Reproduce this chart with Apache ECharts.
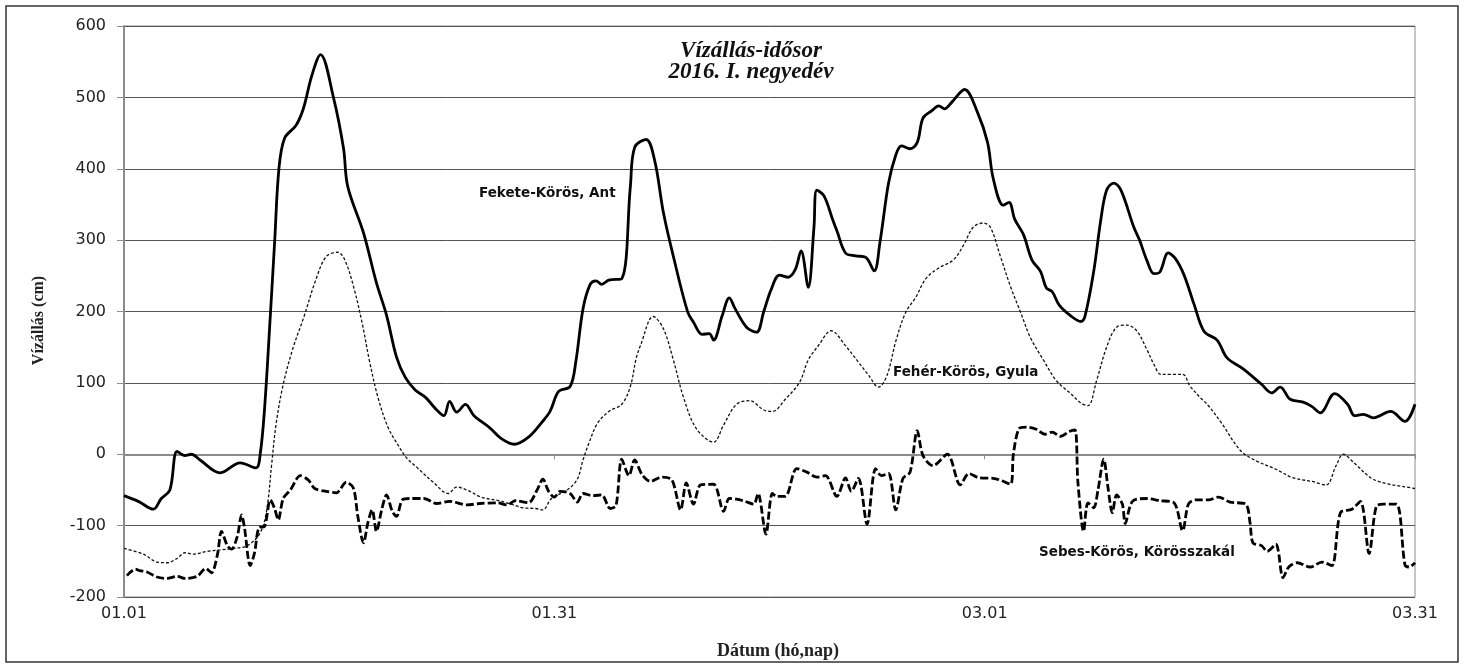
<!DOCTYPE html>
<html>
<head>
<meta charset="utf-8">
<title>Vízállás-idősor 2016. I. negyedév</title>
<script src="https://cdn.jsdelivr.net/npm/echarts@6.0.0/dist/echarts.min.js"></script>
<style>
  html, body { margin: 0; padding: 0; background: #fff; }
  #chart { width: 1466px; height: 665px; }
</style>
</head>
<body>
<div id="chart"></div>
<script>
// x = days since 01.01 (2016), y = water level in cm
const tickLabels = ['01.01', '01.31', '03.01', '03.31']

// Fekete-Körös, Ant
const fekDay = [
  0, 1, 2.05, 2.6, 3.2, 3.7, 4.25, 4.7, 5.3, 6.7,
  8.1, 9.2, 9.5, 9.8, 10.2, 10.5, 10.8, 11.2, 12, 12.5,
  13.1, 13.7, 14.6, 15.3, 15.6, 16.7, 17.6, 18.3, 19, 19.6,
  20.3, 21, 21.8, 22.3, 22.7, 23.2, 23.8, 24.4, 25.5, 26.3,
  27.2, 28.2, 29.1, 29.7, 30.3, 31.1, 31.5, 32, 32.5, 32.9,
  33.3, 33.8, 34.7, 35.3, 35.6, 36.4, 37, 37.6, 38.3, 39.3,
  39.7, 40.3, 40.8, 41.1, 41.7, 42.2, 42.6, 43.4, 44.1, 44.6,
  45.1, 45.7, 46.3, 46.8, 47.2, 47.7, 48.1, 48.3, 48.8, 49.4,
  49.7, 50.3, 51, 51.7, 52.3, 52.7, 53.3, 53.8, 54.2, 54.8,
  55.3, 55.7, 56.3, 56.8, 57.2, 57.7, 58.6, 59.5, 60.2, 60.6,
  61.3, 61.7, 62.1, 62.7, 63.3, 63.9, 64.3, 64.7, 65.2, 66,
  66.7, 67, 67.6, 68.1, 68.5, 69, 69.5, 70.4, 70.8, 71.3,
  71.8, 72.2, 72.8, 73.3, 73.9, 74.6, 75.3, 76.2, 76.9, 78,
  79.3, 80, 80.6, 81.3, 82.2, 82.8, 83.4, 84.4, 85.3, 85.8,
  86.4, 87.1, 88.3, 89.3, 90
]
const fekLevel = [
  -58, -66, -77, -62, -50, 4, -2, 0, -8, -26,
  -12, -19, 1, 64, 194, 297, 400, 443, 461, 484,
  531, 560, 500, 429, 375, 310, 240, 195, 136, 108,
  90, 80, 62, 54, 74, 59, 70, 54, 37, 22,
  14, 24, 44, 60, 88, 95, 130, 204, 238, 243,
  238, 244, 246, 375, 430, 441, 411, 339, 277, 199,
  185, 168, 169, 160, 194, 219, 204, 178, 171, 200,
  230, 251, 248, 259, 285, 234, 318, 370, 362, 329,
  313, 282, 278, 276, 257, 297, 380, 419, 432, 428,
  437, 471, 481, 488, 484, 493, 511, 479, 437, 386,
  349, 353, 329, 308, 272, 256, 233, 228, 209, 194,
  186, 194, 256, 329, 370, 380, 370, 318, 300, 272,
  253, 255, 282, 274, 251, 210, 172, 160, 135, 120,
  98, 86, 94, 77, 73, 67, 58, 85, 70, 54,
  56, 51, 60, 46, 70
]

// Fehér-Körös, Gyula
const fehDay = [
  0, 1.35, 2.3, 3, 3.7, 4.25, 4.8, 5.8, 6.7, 7.6,
  8.6, 9.5, 9.95, 10.3, 10.6, 11.1, 11.8, 12.5, 13.4, 14.1,
  14.9, 15.4, 16, 16.6, 17.1, 17.7, 18.4, 19.1, 19.7, 20.5,
  21.6, 22.6, 23.2, 24, 24.9, 26.1, 27, 27.8, 28.7, 29.2,
  29.8, 30.9, 31.6, 32, 32.4, 33, 33.8, 34.7, 35.3, 35.7,
  36, 36.9, 37.6, 38.3, 39, 39.9, 41.1, 41.8, 42.7, 43.6,
  44.6, 45.2, 46.1, 47.1, 47.7, 48.4, 49.3, 50.3, 51.2, 51.9,
  52.6, 53.2, 53.8, 54.5, 55.2, 55.9, 56.8, 57.8, 58.5, 59.2,
  59.9, 60.4, 61.1, 61.8, 62.5, 63.2, 64.1, 65, 66, 66.7,
  67.2, 67.8, 68.5, 69.2, 69.9, 70.6, 71.3, 71.8, 72.3, 73.8,
  74.3, 75, 75.6, 76.5, 77.8, 78.8, 80.3, 81.5, 82.8, 83.8,
  84.5, 85, 85.8, 87, 88.2, 89.1, 90
]
const fehLevel = [
  -132, -140, -151, -152, -146, -138, -140, -136, -134, -132,
  -128, -110, -78, -13, 42, 98, 150, 190, 246, 277,
  283, 272, 235, 184, 132, 80, 38, 13, -5, -20,
  -40, -55, -46, -51, -60, -65, -70, -75, -76, -78,
  -62, -50, -35, -8, 15, 43, 60, 70, 95, 134,
  152, 193, 176, 132, 80, 36, 17, 41, 70, 75,
  62, 60, 77, 101, 132, 152, 173, 152, 129, 111,
  94, 111, 158, 199, 220, 246, 261, 272, 292, 318,
  324, 318, 277, 235, 199, 163, 132, 103, 85, 72,
  68, 103, 150, 178, 181, 173, 147, 126, 112, 112,
  96, 80, 68, 44, 6, -8, -21, -33, -38, -43,
  -16, 0, -13, -34, -42, -45, -48
]

// Sebes-Körös, Körösszakál
const sebDay = [
  0.2, 0.8, 1.1, 1.6, 2.3, 3, 3.7, 4.25, 5.1, 5.7,
  6.1, 6.5, 6.8, 7.2, 7.5, 7.9, 8.2, 8.4, 8.8, 9.1,
  9.4, 9.8, 10.2, 10.5, 10.75, 11.1, 11.6, 12.3, 12.85, 13.3,
  14.1, 14.8, 15.5, 16, 16.3, 16.7, 17, 17.3, 17.6, 17.96,
  18.3, 18.7, 19, 19.4, 19.95, 20.9, 21.8, 22.7, 23.9, 24.8,
  26, 26.7, 27.3, 28.2, 28.8, 29.2, 29.6, 30, 30.4, 31.1,
  31.6, 32, 32.7, 33.3, 33.9, 34.3, 34.7, 35.2, 35.6, 36.1,
  36.7, 37.5, 38.2, 38.8, 39.2, 39.7, 40.2, 41.1, 41.8, 42.2,
  42.7, 43.3, 43.9, 44.2, 44.75, 45.2, 45.5, 46.1, 46.9, 47.6,
  48.3, 48.9, 49.7, 50.3, 50.7, 51.2, 51.8, 52.4, 52.8, 53.3,
  53.8, 54.3, 54.8, 55.3, 55.7, 56.4, 57.4, 58.3, 58.9, 59.6,
  60.7, 61.8, 62, 62.4, 62.9, 63.6, 64.2, 64.7, 65.3, 65.9,
  66.3, 66.5, 66.9, 67.2, 67.6, 67.9, 68.3, 68.6, 68.9, 69.2,
  69.6, 69.8, 70.3, 71.3, 72.2, 73.2, 73.8, 74.2, 74.7, 75.6,
  76.3, 77.1, 78.2, 78.5, 78.7, 79.3, 79.7, 80.3, 80.8, 81.2,
  81.8, 82.7, 83.5, 84.2, 84.8, 85.6, 86.2, 86.8, 87.3, 87.8,
  88.7, 89.3, 89.6, 90
]
const sebLevel = [
  -170, -161, -163, -165, -172, -174, -171, -174, -171, -160,
  -166, -142, -108, -128, -133, -115, -85, -103, -156, -138,
  -103, -101, -64, -76, -92, -62, -50, -30, -36, -48,
  -52, -54, -39, -48, -87, -124, -96, -78, -108, -78,
  -57, -80, -87, -64, -62, -62, -69, -66, -71, -69,
  -68, -71, -65, -68, -50, -35, -52, -60, -52, -55,
  -67, -55, -58, -57, -76, -72, -7, -30, -8, -28,
  -38, -32, -36, -78, -40, -70, -43, -42, -80, -62,
  -63, -66, -70, -55, -112, -55, -59, -59, -20, -25,
  -32, -30, -59, -33, -52, -34, -98, -20, -30, -27,
  -78, -34, -25, 33, -2, -16, 0, -43, -27, -33,
  -34, -42, 0, 36, 38, 35, 28, 31, 25, 32,
  34, -39, -108, -68, -75, -50, -7, -47, -82, -57,
  -70, -97, -66, -62, -65, -68, -107, -70, -64, -64,
  -60, -67, -70, -96, -124, -128, -136, -126, -173, -158,
  -152, -158, -151, -156, -82, -77, -66, -139, -73, -70,
  -70, -155, -158, -152
]

const pairs = (xs, ys) => xs.map((x, i) => [x, ys[i]])

const chart = echarts.init(document.getElementById('chart'), null, { renderer: 'canvas' })

const labelFont = {
  fontFamily: 'DejaVu Sans',
  fontWeight: 'bold',
  fontSize: 13.5,
  fill: '#111',
  verticalAlign: 'middle',
  textVerticalAlign: 'middle'
}

const option = {
  animation: false,
  backgroundColor: '#fff',
  grid: {
    left: 124,
    top: 26,
    right: 51,
    bottom: 60,
    show: true,
    borderColor: '#8c8c8c',
    borderWidth: 1
  },
  xAxis: {
    type: 'value',
    min: 0,
    max: 90,
    interval: 30,
    name: 'Dátum (hó,nap)',
    nameLocation: 'middle',
    nameGap: 45,
    nameTextStyle: {
      fontFamily: 'Liberation Serif',
      fontWeight: 'bold',
      fontSize: 18,
      color: '#222',
      padding: [0, 0, 0, 17]
    },
    axisLine: { show: true, lineStyle: { color: '#8c8c8c', width: 2 } },
    axisTick: { show: true, length: 5, lineStyle: { color: '#8c8c8c' } },
    axisLabel: {
      margin: 9,
      fontFamily: 'DejaVu Sans',
      fontSize: 16,
      color: '#222',
      formatter: (v) => tickLabels[Math.round(v / 30)]
    },
    splitLine: { show: false }
  },
  yAxis: {
    type: 'value',
    min: -200,
    max: 600,
    interval: 100,
    name: 'Vízállás (cm)',
    nameLocation: 'middle',
    nameGap: 77,
    nameRotate: 90,
    nameTextStyle: {
      fontFamily: 'Liberation Serif',
      fontWeight: 'bold',
      fontSize: 16,
      color: '#222',
      padding: [0, 18, 0, 0]
    },
    axisLine: { show: true, lineStyle: { color: '#8c8c8c', width: 2 } },
    axisTick: { show: true, length: 7, lineStyle: { color: '#8c8c8c' } },
    axisLabel: {
      margin: 18,
      fontFamily: 'DejaVu Sans',
      fontSize: 16,
      color: '#222'
    },
    splitLine: { show: true, lineStyle: { color: '#555', width: 1 } }
  },
  series: [
    {
      name: 'Fekete-Körös, Ant',
      type: 'line',
      data: pairs(fekDay, fekLevel),
      showSymbol: false,
      smooth: 0.35,
      silent: true,
      lineStyle: { color: '#000', width: 2.8, type: 'solid' },
      z: 4
    },
    {
      name: 'Fehér-Körös, Gyula',
      type: 'line',
      data: pairs(fehDay, fehLevel),
      showSymbol: false,
      smooth: 0.35,
      silent: true,
      lineStyle: { color: '#111', width: 1.3, type: [3, 2] },
      z: 3
    },
    {
      name: 'Sebes-Körös, Körösszakál',
      type: 'line',
      data: pairs(sebDay, sebLevel),
      showSymbol: false,
      smooth: 0.3,
      silent: true,
      lineStyle: { color: '#000', width: 2.8, type: [8, 3] },
      z: 3
    }
  ],
  graphic: [
    {
      // outer frame
      type: 'rect',
      shape: { x: 6, y: 6, width: 1452, height: 656 },
      style: { fill: 'none', stroke: '#333', lineWidth: 1.5 },
      silent: true
    },
    {
      type: 'text',
      x: 751,
      y: 41,
      style: {
        text: 'Vízállás-idősor\n2016. I. negyedév',
        fontFamily: 'Liberation Serif',
        fontWeight: 'bold',
        fontStyle: 'italic',
        fontSize: 23,
        lineHeight: 21,
        fill: '#111',
        align: 'center',
        verticalAlign: 'top',
        textAlign: 'center',
        textVerticalAlign: 'top'
      }
    },
    {
      type: 'text',
      x: 479,
      y: 193,
      style: Object.assign({ text: 'Fekete-Körös, Ant' }, labelFont)
    },
    {
      type: 'text',
      x: 893,
      y: 372,
      style: Object.assign({ text: 'Fehér-Körös, Gyula' }, labelFont)
    },
    {
      type: 'text',
      x: 1039,
      y: 552,
      style: Object.assign({ text: 'Sebes-Körös, Körösszakál' }, labelFont)
    }
  ]
}

chart.setOption(option)
</script>
</body>
</html>
